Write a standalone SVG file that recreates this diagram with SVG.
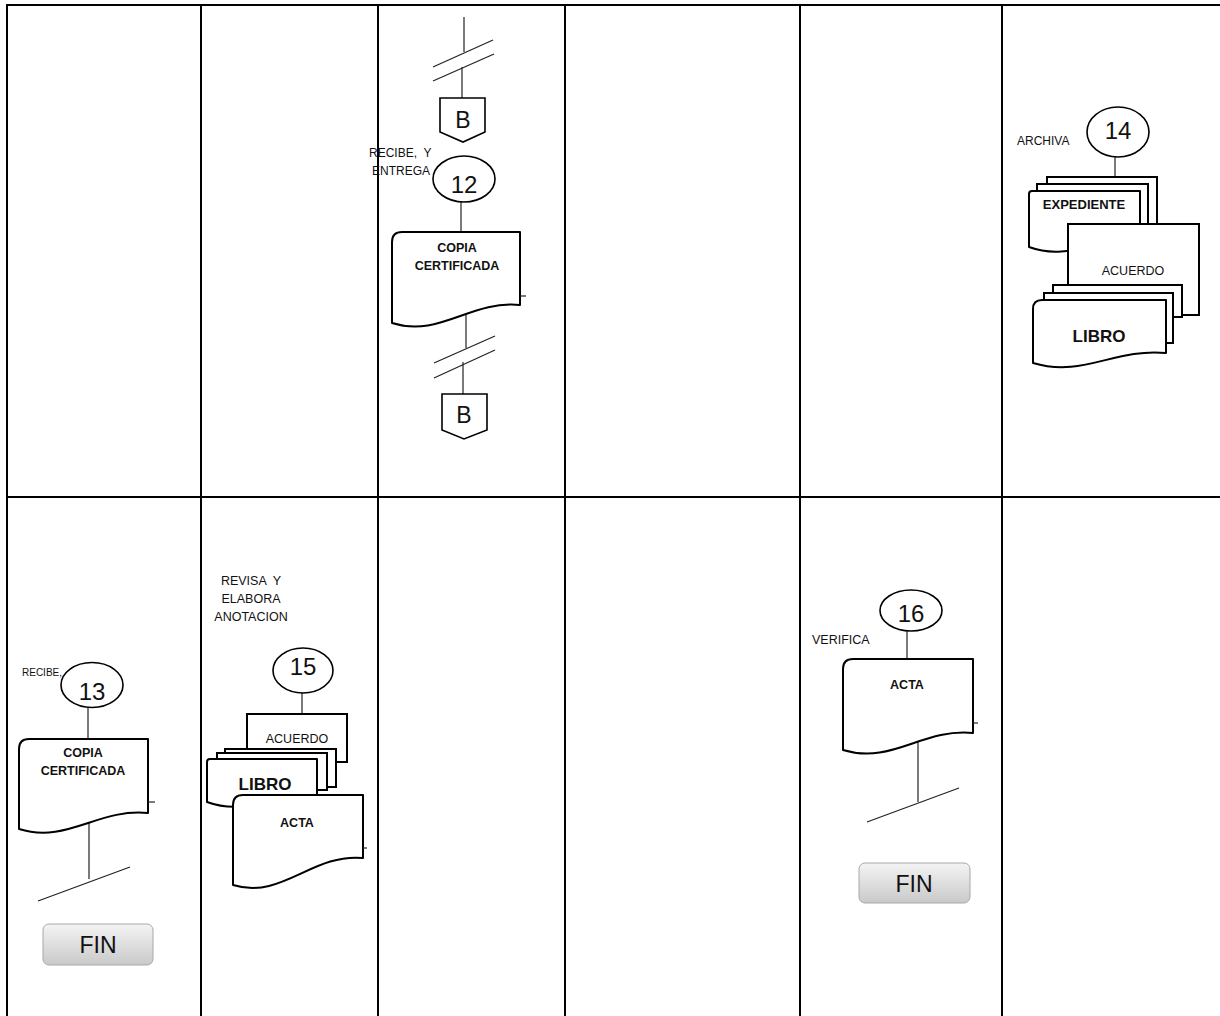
<svg xmlns="http://www.w3.org/2000/svg" width="1220" height="1016" viewBox="0 0 1220 1016">
<defs>
<linearGradient id="finGrad" x1="0" y1="0" x2="0" y2="1">
<stop offset="0" stop-color="#f4f4f4"/>
<stop offset="1" stop-color="#c9c9c9"/>
</linearGradient>
</defs>
<style>
text{font-family:"Liberation Sans",Arial,sans-serif;fill:#111;}
.grid{stroke:#000;stroke-width:2;fill:none;}
.con{stroke:#222;stroke-width:1.2;fill:none;}
.doc{stroke:#000;stroke-width:2;fill:#fff;stroke-linejoin:round;}
.sheet{stroke:#000;stroke-width:2;fill:#fff;}
.oval{stroke:#000;stroke-width:1.6;fill:#fff;}
.off{stroke:#000;stroke-width:1.6;fill:#fff;}
.fin{fill:url(#finGrad);stroke:#a8a8a8;stroke-width:1;}
.lbl{font-size:12px;}
.b{font-weight:bold;}
.num{font-size:24px;text-anchor:middle;}
.mid{text-anchor:middle;}
</style>
<rect x="0" y="0" width="1220" height="1016" fill="#fff"/>
<g id="grid">
<line class="grid" x1="7" y1="4" x2="7" y2="1016"/>
<line class="grid" x1="6" y1="5" x2="1220" y2="5" stroke-width="2.6"/>
<line class="grid" x1="201" y1="5" x2="201" y2="1016"/>
<line class="grid" x1="378" y1="5" x2="378" y2="1016"/>
<line class="grid" x1="565" y1="5" x2="565" y2="1016"/>
<line class="grid" x1="800" y1="5" x2="800" y2="1016"/>
<line class="grid" x1="1002" y1="5" x2="1002" y2="1016"/>
<line class="grid" x1="7" y1="497" x2="1220" y2="497"/>
</g>
<g id="connectors">
<line class="con" x1="464" y1="17" x2="464" y2="52"/>
<line class="con" x1="433" y1="67" x2="493" y2="40"/>
<line class="con" x1="433" y1="81" x2="494" y2="54"/>
<line class="con" x1="462" y1="67" x2="462" y2="98"/>
<line class="con" x1="461" y1="202" x2="461" y2="232"/>
<line class="con" x1="466" y1="313" x2="466" y2="348"/>
<line class="con" x1="434" y1="363" x2="495" y2="336"/>
<line class="con" x1="434" y1="378" x2="495" y2="350"/>
<line class="con" x1="463" y1="362" x2="463" y2="394"/>
<line class="con" x1="1115" y1="157" x2="1115" y2="177"/>
<line class="con" x1="88" y1="708" x2="88" y2="739"/>
<line class="con" x1="89" y1="820" x2="89" y2="879"/>
<line class="con" x1="38" y1="901" x2="130" y2="867"/>
<line class="con" x1="302" y1="693" x2="302" y2="714"/>
<line class="con" x1="907" y1="631" x2="907" y2="659"/>
<line class="con" x1="918" y1="742" x2="918" y2="802"/>
<line class="con" x1="867" y1="822" x2="959" y2="788"/>
</g>
<g id="connectorB1">
<polygon class="off" points="440,98 485,98 485,132 463,142 440,132"/>
<text x="463" y="128" font-size="23" class="mid">B</text>
</g>
<g id="label12">
<text x="369" y="157" class="lbl" xml:space="preserve">RECIBE,  Y</text>
<text x="372" y="175" class="lbl">ENTREGA</text>
</g>
<g id="step12">
<ellipse class="oval" cx="464" cy="179" rx="31" ry="23"/>
<text x="464" y="193" class="num">12</text>
</g>
<g id="doc12">
<path class="doc" d="M392,323 V242 Q392,232 402,232 H520 V305 C470,300 440,338 392,323 Z"/>
<line class="con" x1="520" y1="296" x2="526" y2="296"/>
<text x="457" y="252" font-size="12.5" class="b mid">COPIA</text>
<text x="457" y="270" font-size="12.5" class="b mid">CERTIFICADA</text>
</g>
<g id="connectorB2">
<polygon class="off" points="442,394 487,394 487,430 464,439 442,430"/>
<text x="464" y="423" font-size="23" class="mid">B</text>
</g>
<g id="step14">
<text x="1017" y="145" class="lbl" font-size="12.5">ARCHIVA</text>
<ellipse class="oval" cx="1118" cy="132" rx="31" ry="25"/>
<text x="1118" y="139" class="num">14</text>
</g>
<g id="expediente">
<rect class="sheet" x="1047" y="177" width="110" height="63"/>
<rect class="sheet" x="1037" y="184" width="111" height="61"/>
<path class="doc" d="M1029,247 V194 Q1029,191 1032,191 H1140 V240 C1097,236 1070,262 1029,247 Z"/>
<text x="1084" y="209" font-size="13" class="b mid">EXPEDIENTE</text>
</g>
<g id="acuerdo14">
<rect class="sheet" x="1068" y="224" width="131" height="91"/>
<text x="1133" y="275" font-size="12.5" class="mid">ACUERDO</text>
</g>
<g id="libro14">
<rect class="sheet" x="1053" y="285" width="129" height="32"/>
<rect class="sheet" x="1044" y="293" width="129" height="50"/>
<path class="doc" d="M1033,363 V309 Q1033,300 1042,300 H1166 V353 C1114,348 1083,378 1033,363 Z"/>
<text x="1099" y="342" font-size="17" class="b mid">LIBRO</text>
</g>
<g id="step13">
<text x="22" y="676" font-size="10">RECIBE,</text>
<ellipse class="oval" cx="92" cy="685" rx="31" ry="22.5"/>
<text x="92" y="700" class="num">13</text>
</g>
<g id="doc13">
<path class="doc" d="M19,829 V749 Q19,739 29,739 H148 V813 C98,808 67,844 19,829 Z"/>
<line class="con" x1="148" y1="802" x2="155" y2="802"/>
<text x="83" y="757" font-size="12.5" class="b mid">COPIA</text>
<text x="83" y="775" font-size="12.5" class="b mid">CERTIFICADA</text>
</g>
<g id="fin1">
<rect class="fin" x="43" y="924" width="110" height="41" rx="6"/>
<text x="98" y="953" font-size="23" class="mid">FIN</text>
</g>
<g id="label15">
<text x="251" y="585" font-size="12.5" class="mid" xml:space="preserve">REVISA  Y</text>
<text x="251" y="603" font-size="12.5" class="mid">ELABORA</text>
<text x="251" y="621" font-size="12.5" class="mid">ANOTACION</text>
</g>
<g id="step15">
<ellipse class="oval" cx="303" cy="670.5" rx="30" ry="22.5"/>
<text x="303" y="675" class="num">15</text>
</g>
<g id="acuerdo15">
<rect class="sheet" x="247" y="714" width="100" height="48"/>
<text x="297" y="743" font-size="12.5" class="mid">ACUERDO</text>
</g>
<g id="libro15">
<rect class="sheet" x="225" y="749" width="111" height="38"/>
<rect class="sheet" x="217" y="753" width="110" height="37"/>
<path class="doc" d="M207,802 V762 Q207,759 210,759 H317 V797 C274,792 248,817 207,802 Z"/>
<text x="265" y="790" font-size="17" class="b mid">LIBRO</text>
</g>
<g id="acta15">
<path class="doc" d="M233,885 V805 Q233,795 243,795 H363 V858 C312,853 282,900 233,885 Z"/>
<line class="con" x1="363" y1="848" x2="367" y2="848"/>
<text x="297" y="827" font-size="12.5" class="b mid">ACTA</text>
</g>
<g id="step16">
<ellipse class="oval" cx="911" cy="610.5" rx="31" ry="20.5"/>
<text x="911" y="622" class="num">16</text>
<text x="812" y="644" font-size="12.5">VERIFICA</text>
</g>
<g id="acta16">
<path class="doc" d="M843,750 V669 Q843,659 853,659 H973 V733 C922,728 892,765 843,750 Z"/>
<line class="con" x1="973" y1="723" x2="978" y2="723"/>
<text x="907" y="689" font-size="12.5" class="b mid">ACTA</text>
</g>
<g id="fin2">
<rect class="fin" x="859" y="863" width="111" height="40" rx="6"/>
<text x="914" y="892" font-size="23" class="mid">FIN</text>
</g>
</svg>
